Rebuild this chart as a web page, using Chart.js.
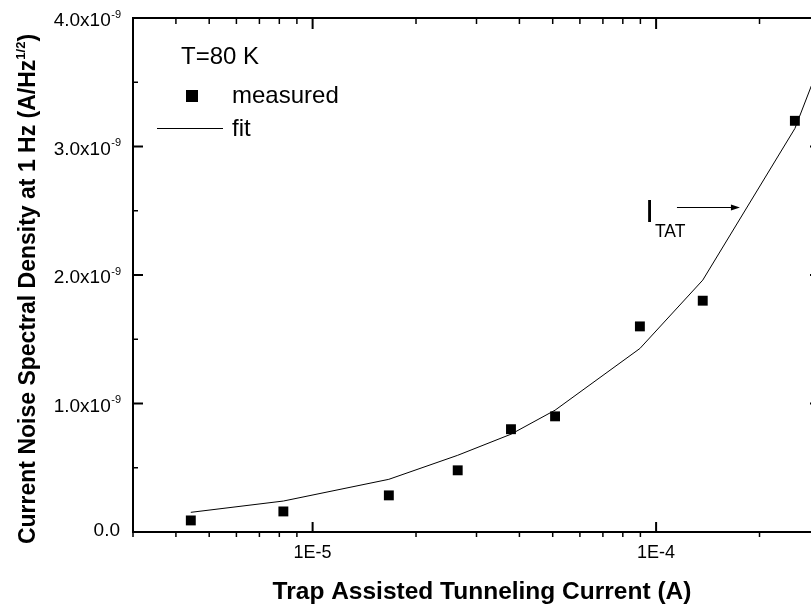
<!DOCTYPE html>
<html>
<head>
<meta charset="utf-8">
<script src="https://cdn.jsdelivr.net/npm/chart.js@4/dist/chart.umd.min.js"></script>
<style>
  html, body { margin: 0; padding: 0; overflow: hidden; background: #fff; }
  #noiseChart { display: block; }
</style>
</head>
<body>
<canvas id="noiseChart" width="830" height="607" style="width:830px;height:607px"></canvas>
<script>
// trap assisted tunneling current (A) vs current noise density at 1 Hz (A/Hz^1/2), T = 80 K
let currents = [4.42e-6, 8.22e-6, 1.667e-5, 2.645e-5, 3.78e-5, 5.08e-5, 8.97e-5, 1.367e-4, 2.535e-4]
let measured = [0.09e-9, 0.16e-9, 0.285e-9, 0.48e-9, 0.80e-9, 0.90e-9, 1.60e-9, 1.80e-9, 3.20e-9]

let fitCurrents = [4.42e-6, 8.22e-6, 1.667e-5, 2.645e-5, 3.78e-5, 5.08e-5, 8.97e-5, 1.367e-4, 2.535e-4, 3.2e-4]
let fitNoise = [0.153e-9, 0.241e-9, 0.41e-9, 0.597e-9, 0.761e-9, 0.948e-9, 1.428e-9, 1.96e-9, 3.14e-9, 3.84e-9]

// axis ticks
let yMajor = [0, 1e-9, 2e-9, 3e-9, 4e-9]
let yMinor = [0.5e-9, 1.5e-9, 2.5e-9, 3.5e-9]
let yLabels = ['0.0', '1.0x10', '2.0x10', '3.0x10', '4.0x10']
let yExp = ['', '-9', '-9', '-9', '-9']
let xMajor = [1e-5, 1e-4]
let xLabels = ['1E-5', '1E-4']
let xMinor = [3e-6, 4e-6, 5e-6, 6e-6, 7e-6, 8e-6, 9e-6,
              2e-5, 3e-5, 4e-5, 5e-5, 6e-5, 7e-5, 8e-5, 9e-5,
              2e-4, 3e-4]

// arrow pointing at the fit curve
let itat = { label: 9.3e-5, labelY: 2.414e-9, from: 1.15e-4, to: 1.754e-4, arrowY: 2.526e-9 }

const FONT = '"Liberation Sans", Arial, sans-serif'

function line(ctx, x1, y1, x2, y2, w) {
    ctx.lineWidth = w
    ctx.beginPath()
    ctx.moveTo(x1, y1)
    ctx.lineTo(x2, y2)
    ctx.stroke()
}

function text(ctx, s, x, y, font, align) {
    ctx.font = font
    ctx.textAlign = align || 'left'
    ctx.fillText(s, x, y)
    return ctx.measureText(s).width
}

const framePlugin = {
    id: 'frame',
    afterDraw(chart) {
        const { ctx, chartArea: a, scales: { x, y } } = chart
        ctx.save()
        ctx.strokeStyle = '#000'
        ctx.fillStyle = '#000'
        ctx.lineCap = 'butt'
        ctx.textBaseline = 'alphabetic'

        // box
        ctx.lineWidth = 2
        ctx.strokeRect(a.left, a.top, a.right - a.left, a.bottom - a.top)

        // y ticks, left and right
        yMajor.forEach(v => {
            const py = y.getPixelForValue(v)
            line(ctx, a.left, py, a.left + 10, py, 2)
            line(ctx, a.right, py, a.right - 10, py, 2)
        })
        yMinor.forEach(v => {
            const py = y.getPixelForValue(v)
            line(ctx, a.left, py, a.left + 5, py, 1.5)
            line(ctx, a.right, py, a.right - 5, py, 1.5)
        })

        // x ticks, bottom and top
        xMajor.forEach(v => {
            const px = x.getPixelForValue(v)
            line(ctx, px, a.bottom, px, a.bottom - 10, 2)
            line(ctx, px, a.top, px, a.top + 11, 2)
        })
        xMinor.forEach(v => {
            const px = x.getPixelForValue(v)
            line(ctx, px, a.bottom, px, a.bottom + 5, 1.5)
            line(ctx, px, a.top, px, a.top + 6, 1.5)
        })

        // y tick labels with exponents
        const right = a.left - 12
        yMajor.forEach((v, i) => {
            const py = y.getPixelForValue(v)
            if (!yExp[i]) {
                text(ctx, yLabels[i], right - 1, py + 4, '19px ' + FONT, 'right')
                return
            }
            ctx.font = '11px ' + FONT
            const ew = ctx.measureText(yExp[i]).width
            text(ctx, yExp[i], right - ew, py - 0.5, '11px ' + FONT, 'left')
            text(ctx, yLabels[i], right - ew - 0.5, py + 8, '19px ' + FONT, 'right')
        })

        // x tick labels
        xMajor.forEach((v, i) => {
            text(ctx, xLabels[i], x.getPixelForValue(v), a.bottom + 26, '18px ' + FONT, 'center')
        })

        // axis titles
        text(ctx, 'Trap Assisted Tunneling Current (A)', 482, 599, 'bold 24.5px ' + FONT, 'center')

        ctx.save()
        ctx.translate(35, (a.top + a.bottom) / 2 + 14)
        ctx.rotate(-Math.PI / 2)
        const t1 = 'Current Noise Spectral Density at 1 Hz (A/Hz', t2 = '1/2', t3 = ')'
        ctx.font = 'bold 23px ' + FONT
        const w1 = ctx.measureText(t1).width, w3 = ctx.measureText(t3).width
        ctx.font = 'bold 13px ' + FONT
        const w2 = ctx.measureText(t2).width
        let sx = -(w1 + w2 + w3) / 2
        text(ctx, t1, sx, 0, 'bold 23px ' + FONT)
        text(ctx, t2, sx + w1, -10, 'bold 13px ' + FONT)
        text(ctx, t3, sx + w1 + w2, 0, 'bold 23px ' + FONT)
        ctx.restore()

        // legend
        text(ctx, 'T=80 K', 181, 64, '24px ' + FONT)
        ctx.fillRect(186, 90, 12, 12)
        text(ctx, 'measured', 232, 103, '24px ' + FONT)
        line(ctx, 157, 128.5, 223, 128.5, 1)
        text(ctx, 'fit', 232, 136, '24px ' + FONT)

        // I_TAT label and arrow
        const lx = x.getPixelForValue(itat.label), ly = y.getPixelForValue(itat.labelY)
        const iw = text(ctx, 'I', lx, ly, '31px ' + FONT)
        text(ctx, 'TAT', lx + iw + 1, ly + 15, '17.5px ' + FONT)
        const ax1 = x.getPixelForValue(itat.from), ax2 = x.getPixelForValue(itat.to)
        const ay = Math.round(y.getPixelForValue(itat.arrowY)) + 0.5
        line(ctx, ax1, ay, ax2 - 6, ay, 1)
        ctx.beginPath()
        ctx.moveTo(ax2, ay)
        ctx.lineTo(ax2 - 9, ay - 3)
        ctx.lineTo(ax2 - 9, ay + 3)
        ctx.closePath()
        ctx.fill()

        ctx.restore()
    }
}

let chart = new Chart(document.getElementById('noiseChart'), {
    type: 'scatter',
    data: {
        datasets: [{
            label: 'measured',
            data: currents.map((c, i) => ({ x: c, y: measured[i] })),
            pointStyle: 'rect',
            pointRadius: 7,
            pointBorderWidth: 0,
            backgroundColor: '#000',
            borderColor: '#000',
            showLine: false
        }, {
            label: 'fit',
            data: fitCurrents.map((c, i) => ({ x: c, y: fitNoise[i] })),
            showLine: true,
            borderColor: '#000',
            borderWidth: 1,
            pointRadius: 0,
            tension: 0
        }]
    },
    options: {
        responsive: false,
        animation: false,
        events: [],
        layout: { padding: { left: 133, right: 10, top: 18, bottom: 75 } },
        plugins: { legend: { display: false }, tooltip: { enabled: false } },
        scales: {
            x: { type: 'logarithmic', min: 3e-6, max: 3e-4, display: false },
            y: { type: 'linear', min: 0, max: 4e-9, display: false }
        }
    },
    plugins: [framePlugin]
})
</script>
</body>
</html>
